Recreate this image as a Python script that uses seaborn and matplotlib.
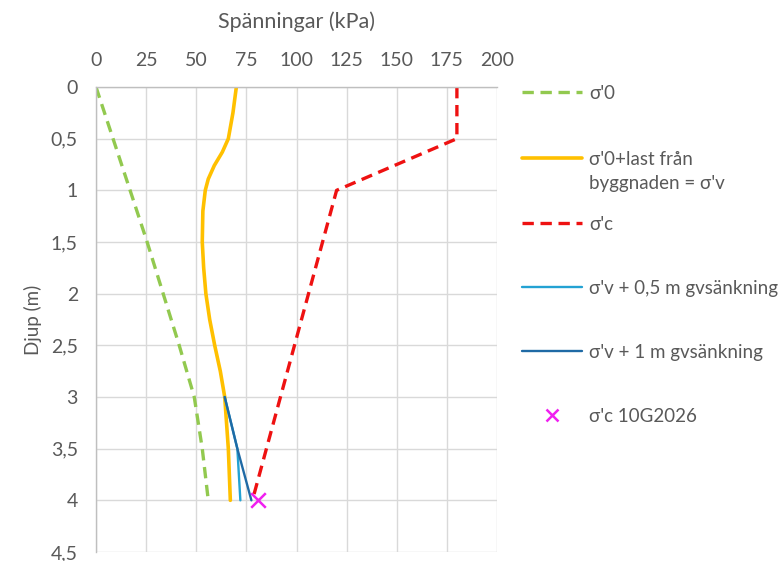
import numpy as np
import pandas as pd
import seaborn as sns
import matplotlib
matplotlib.use("Agg")
import matplotlib.pyplot as plt
from matplotlib.lines import Line2D
from matplotlib.ticker import FuncFormatter

# ---- data ----
depth_s0 = [0, 0.5, 1, 1.5, 2, 2.5, 3, 3.5, 4]
sigma0 = [0, 8.5, 17, 25.5, 33.5, 41.5, 49, 53, 56]

depth_sv = [0, 0.25, 0.5, 0.63, 0.76, 0.89, 1.0, 1.2, 1.5, 1.75, 2.0, 2.25, 2.5, 2.75, 3.0, 3.5, 4.0]
sigma_v = [70, 68.3, 66, 63, 59, 56, 54.5, 53.3, 53, 53.7, 54.8, 56.7, 59.2, 62, 64.2, 66, 67]

depth_sc = [0, 0.5, 1, 4]
sigma_c = [180, 180, 120, 78]

depth_gv = [3, 3.5, 4]
sigma_gv05 = [64.2, 70.5, 72]
sigma_gv1 = [64.2, 70.5, 77.5]

point_depth = [4]
point_sc = [81]

labels = ["σ'0", "σ'0+last från\nbyggnaden = σ'v", "σ'c",
          "σ'v + 0,5 m gvsänkning", "σ'v + 1 m gvsänkning", "σ'c 10G2026"]
x_ticks = [0, 25, 50, 75, 100, 125, 150, 175, 200]
y_ticks = [0, 0.5, 1, 1.5, 2, 2.5, 3, 3.5, 4, 4.5]

c_green = "#92C94F"
c_yellow = "#FFC000"
c_red = "#EE1111"
c_lblue = "#23A2D3"
c_dblue = "#1F6AA5"
c_pink = "#F020F0"
txt = "#595959"

sns.set_theme(style="white")
plt.rcParams["font.family"] = ["Lato", "DejaVu Sans"]

fig = plt.figure(figsize=(7.84, 5.61), dpi=100)
ax = fig.add_axes([96 / 784, 1 - 552 / 561, (497 - 96) / 784, (552 - 87) / 561])

dash = (0, (3.4, 2.0))
sns.lineplot(x=sigma0, y=depth_s0, sort=False, estimator=None, ax=ax,
             color=c_green, lw=2.4, linestyle=dash)
sns.lineplot(x=sigma_v, y=depth_sv, sort=False, estimator=None, ax=ax,
             color=c_yellow, lw=2.6)
sns.lineplot(x=sigma_c, y=depth_sc, sort=False, estimator=None, ax=ax,
             color=c_red, lw=2.4, linestyle=dash)
sns.lineplot(x=sigma_gv05, y=depth_gv, sort=False, estimator=None, ax=ax,
             color=c_lblue, lw=1.7)
sns.lineplot(x=sigma_gv1, y=depth_gv, sort=False, estimator=None, ax=ax,
             color=c_dblue, lw=1.7)
sns.scatterplot(x=point_sc, y=point_depth, ax=ax, marker="x", s=110,
                color=c_pink, linewidth=1.8, zorder=5)

ax.set_xlim(0, 200)
ax.set_ylim(4.5, 0)
ax.set_xticks(x_ticks)
ax.set_yticks(y_ticks)
ax.yaxis.set_major_formatter(FuncFormatter(lambda v, p: f"{v:g}".replace(".", ",")))
ax.xaxis.tick_top()
ax.xaxis.set_label_position("top")
ax.grid(True, color="#D9D9D9", lw=1.0)
ax.set_axisbelow(True)
for s in ["right", "bottom"]:
    ax.spines[s].set_visible(False)
for s in ["left", "top"]:
    ax.spines[s].set_color("#BFBFBF")
    ax.spines[s].set_linewidth(1.0)
ax.tick_params(length=0, labelsize=14, labelcolor=txt, pad=13)
ax.set_xlabel("Spänningar (kPa)", fontsize=15.5, color=txt, labelpad=17)
ax.set_ylabel("Djup (m)", fontsize=13.5, color=txt, labelpad=6)

handles = [
    Line2D([], [], color=c_green, lw=2.4, linestyle=dash),
    Line2D([], [], color=c_yellow, lw=2.6),
    Line2D([], [], color=c_red, lw=2.4, linestyle=dash),
    Line2D([], [], color=c_lblue, lw=1.7),
    Line2D([], [], color=c_dblue, lw=1.7),
    Line2D([], [], color=c_pink, lw=0, marker="x", markersize=9, markeredgewidth=1.8),
]
leg_kw = dict(loc="upper left", bbox_transform=fig.transFigure, frameon=False,
              fontsize=13.5, handlelength=3.2, handletextpad=0.37,
              borderpad=0, borderaxespad=0)
leg1 = fig.legend(handles[:2], labels[:2], bbox_to_anchor=(522 / 784, 1 - 85 / 561),
                  labelspacing=2.62, **leg_kw)
leg2 = fig.legend(handles[2:], labels[2:], bbox_to_anchor=(522 / 784, 1 - 216 / 561),
                  labelspacing=2.5, **leg_kw)
for lg in (leg1, leg2):
    for t in lg.get_texts():
        t.set_color(txt)
        t.set_linespacing(1.5)
# Put the two-line entry's line level with its first text line
ln = leg1.get_lines()[1]
ln.set_ydata(np.asarray(ln.get_ydata()) + 10.0)

fig.savefig("out.png", dpi=100)
